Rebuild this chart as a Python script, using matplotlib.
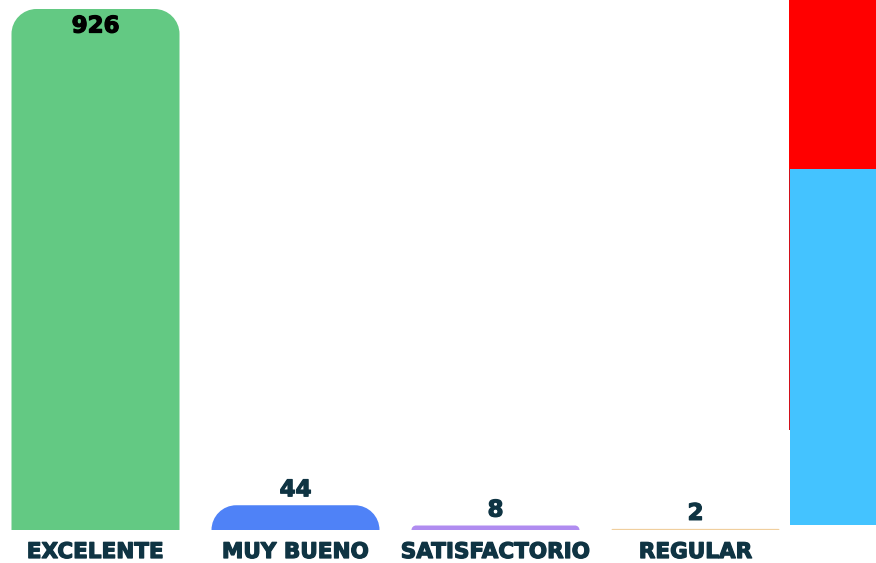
import matplotlib
matplotlib.use("Agg")
import matplotlib.pyplot as plt
import matplotlib.patheffects as pe
from matplotlib.path import Path
from matplotlib.patches import PathPatch, Rectangle

categories = ["EXCELENTE", "MUY BUENO", "SATISFACTORIO", "REGULAR"]
values = [926, 44, 8, 2]
colors = ["#63C983", "#4F82F7", "#B08CF0", "#F0CF9E"]
text_color = "#0F3443"

W, H = 876, 563
fig = plt.figure(figsize=(W / 100, H / 100), dpi=100)
ax = fig.add_axes([0, 0, 1, 1])

# pixel geometry of the plotting area
px_per_cat = 200.0
first_center_px = 95.5
baseline_px = 33.0          # from bottom
top_px = H - 9.0            # top of the tallest bar
ymax = max(values)
px_per_unit = (top_px - baseline_px) / ymax

ax.set_xlim(-first_center_px / px_per_cat, (W - first_center_px) / px_per_cat)
ax.set_ylim(-baseline_px / px_per_unit, ymax + (H - top_px) / px_per_unit)
ax.axis("off")

bar_w = 168 / px_per_cat
bars = ax.bar(range(len(values)), values, width=bar_w, color=colors)


def rounded_top(x0, w, h, r_px):
    """Bar outline with rounded top corners (radius given in pixels)."""
    rx = r_px / px_per_cat
    ry = r_px / px_per_unit
    k = 0.5523
    x1 = x0 + w
    verts = [
        (x0, 0), (x0, h - ry),
        (x0, h - ry + k * ry), (x0 + rx - k * rx, h), (x0 + rx, h),
        (x1 - rx, h),
        (x1 - rx + k * rx, h), (x1, h - ry + k * ry), (x1, h - ry),
        (x1, 0), (x0, 0),
    ]
    codes = [Path.MOVETO, Path.LINETO,
             Path.CURVE4, Path.CURVE4, Path.CURVE4,
             Path.LINETO,
             Path.CURVE4, Path.CURVE4, Path.CURVE4,
             Path.LINETO, Path.CLOSEPOLY]
    return Path(verts, codes)


for b, v, c in zip(bars, values, colors):
    b.set_visible(False)
    h_px = v * px_per_unit
    r = min(25.0, h_px)
    ax.add_patch(PathPatch(rounded_top(b.get_x(), b.get_width(), v, r),
                           facecolor=c, edgecolor="none", lw=0))


def heavy(color):
    return [pe.withStroke(linewidth=0.9, foreground=color)]


font = "DejaVu Sans"
for i, (cat, v) in enumerate(zip(categories, values)):
    ax.text(i, -22 / px_per_unit, cat, ha="center", va="center",
            fontsize=15.5, fontweight="bold", color=text_color, family=font,
            path_effects=heavy(text_color))
    if i == 0:
        ax.text(i, v - 17 / px_per_unit, str(v), ha="center", va="center",
                fontsize=16.5, fontweight="bold", color="black", family=font,
                path_effects=heavy("black"))
    else:
        ax.text(i, v + 4 / px_per_unit, str(v), ha="center", va="bottom",
                fontsize=16.5, fontweight="bold", color=text_color, family=font,
                path_effects=heavy(text_color))

# side panel blocks
fig.patches.append(Rectangle((789 / W, 0), 87 / W, 1, transform=fig.transFigure,
                             facecolor="white", edgecolor="none"))
fig.patches.append(Rectangle((789 / W, (H - 169) / H), 87 / W, 169 / H,
                             transform=fig.transFigure, facecolor="#FF0000",
                             edgecolor="none"))
fig.patches.append(Rectangle((789 / W, (H - 430) / H), 1 / W, 261 / H,
                             transform=fig.transFigure, facecolor="#D0101A",
                             edgecolor="none"))
fig.patches.append(Rectangle((790 / W, (H - 525) / H), 86 / W, 356 / H,
                             transform=fig.transFigure, facecolor="#44C3FF",
                             edgecolor="none"))

fig.savefig("out.png", dpi=100, facecolor="white")
